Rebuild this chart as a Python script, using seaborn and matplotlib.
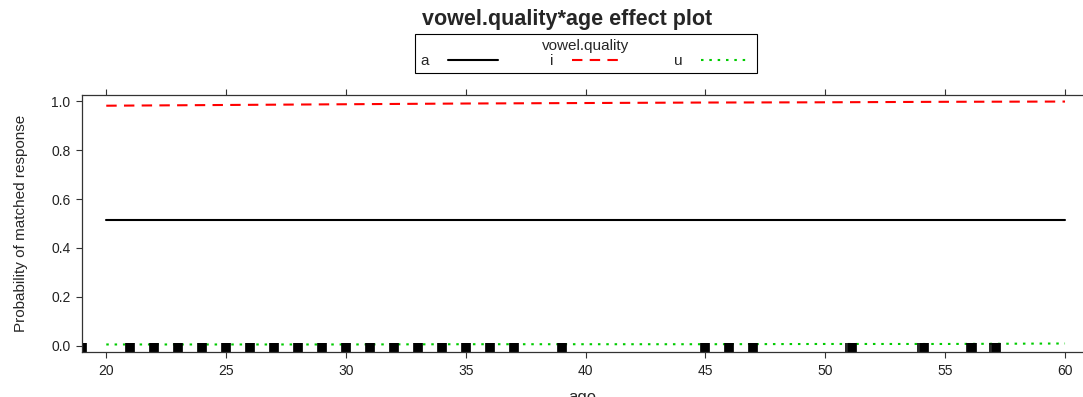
import matplotlib
matplotlib.use("Agg")
import matplotlib.pyplot as plt
import pandas as pd
import seaborn as sns

# effect estimates
ages = [20, 25, 30, 35, 40, 45, 50, 55, 60]
prob_a = [0.515, 0.515, 0.515, 0.515, 0.515, 0.515, 0.515, 0.515, 0.515]
prob_i = [0.982, 0.985, 0.988, 0.991, 0.993, 0.995, 0.996, 0.998, 0.999]
prob_u = [0.005, 0.005, 0.005, 0.006, 0.006, 0.006, 0.007, 0.007, 0.009]
levels = ["a", "i", "u"]

# observed ages (rug)
rug_dense = [19, 21, 22, 23, 24, 25, 26, 27, 28, 29, 30, 31, 32, 33, 34, 35,
             36, 37, 39, 45, 46, 47, 51.1, 54.1, 56.1, 57.1]
rug_sparse = [50.85, 53.85, 55.9, 56.85]

df = pd.DataFrame({
    "age": ages * 3,
    "prob": prob_a + prob_i + prob_u,
    "vowel.quality": [lv for lv in levels for _ in ages],
})

sns.set_style("ticks")
plt.rcParams["font.family"] = ["Liberation Sans", "DejaVu Sans"]

fig = plt.figure(figsize=(10.83, 3.97), dpi=100)
ax = fig.add_axes([82.3 / 1083, 1 - 351.7 / 397, 1 - 82.3 / 1083, (351.7 - 95.3) / 397])

sns.lineplot(data=df, x="age", y="prob", hue="vowel.quality", style="vowel.quality",
             palette={"a": "black", "i": "#ff0000", "u": "#00cc00"},
             dashes={"a": "", "i": (5, 3.5), "u": (1.2, 2.8)},
             lw=1.5, ax=ax)

sns.rugplot(x=rug_dense, ax=ax, height=0.035, color="black", linewidth=7)
sns.rugplot(x=rug_sparse, ax=ax, height=0.035, color="black", linewidth=1.2)

ax.set_xlim(19.0, 60.75)
ax.set_ylim(-0.0246, 1.0246)
ax.set_xticks([20, 25, 30, 35, 40, 45, 50, 55, 60])
ax.set_yticks([0.0, 0.2, 0.4, 0.6, 0.8, 1.0])
ax.set_yticklabels(["0.0", "0.2", "0.4", "0.6", "0.8", "1.0"])
ax.tick_params(axis="both", labelsize=10, length=4.5, width=0.8, pad=4, colors="#333333",
               labelcolor="#222222")
ax.tick_params(axis="x", top=True)
for s in ["left", "bottom", "top"]:
    ax.spines[s].set_linewidth(0.9)
    ax.spines[s].set_color("#333333")
ax.spines["right"].set_visible(False)
ax.set_xlabel("age", fontsize=12, labelpad=9)
ax.set_ylabel("Probability of matched response", fontsize=11, labelpad=17)

sns.move_legend(ax, "upper center", bbox_to_anchor=(586 / 1083, 1 - 34 / 397),
                bbox_transform=fig.transFigure, ncol=3, title="vowel.quality",
                markerfirst=False, handlelength=3.3, handletextpad=1.2,
                columnspacing=3.4, borderpad=0.35, labelspacing=0.05, borderaxespad=0,
                fontsize=11, title_fontsize=11,
                frameon=True, fancybox=False, framealpha=1, edgecolor="black")
ax.get_legend().get_frame().set_linewidth(0.8)

fig.suptitle("vowel.quality*age effect plot", x=567.5 / 1083, y=1 - 20 / 397, va="center",
             fontsize=15.5, fontweight="bold")

fig.savefig("out.png", dpi=100)
